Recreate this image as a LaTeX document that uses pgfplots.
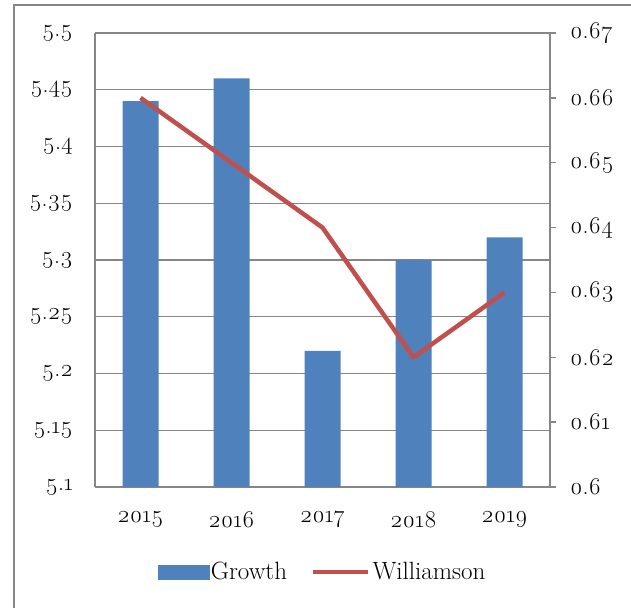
\documentclass[border=0pt]{standalone}
\usepackage{fontspec}
\setmainfont{Latin Modern Roman}[Numbers=OldStyle]
\usepackage{pgfplots}
\pgfplotsset{compat=1.18}
\definecolor{barblue}{HTML}{4F81BD}
\definecolor{linered}{HTML}{C0504D}
\definecolor{gridgray}{HTML}{868686}
\begin{document}
\begin{tikzpicture}[x=1pt,y=1pt]
\useasboundingbox (0,0) rectangle (631,608);
\draw[gridgray, line width=1.5pt] (14,0) -- (14,603) -- (631,603);
\begin{axis}[at={(95pt,121pt)}, anchor=south west, scale only axis,
  width=455pt, height=454pt,
  xmin=-0.5, xmax=4.5, ymin=5.1, ymax=5.5,
  xtick={0,1,2,3,4}, xticklabels={2015,2016,2017,2018,2019},
  ytick={5.1,5.15,5.2,5.25,5.3,5.35,5.4,5.45,5.5},
  yticklabels={5.1,5.15,5.2,5.25,5.3,5.35,5.4,5.45,5.5},
  axis line style={gridgray, line width=1.3pt},
  ymajorgrids, grid style={gridgray, line width=1.3pt},
  major tick length=0pt,
  ticklabel style={font=\fontsize{24}{28}\selectfont},
  yticklabel style={inner sep=0pt, xshift=-22pt},
  xticklabel style={inner sep=0pt, yshift=-24pt},
  axis y line*=left, axis x line*=bottom,
  ]
\addplot[ybar, bar width=36pt, fill=barblue, draw=none] coordinates {(0,5.44) (1,5.46) (2,5.22) (3,5.30) (4,5.32)};
\end{axis}
\begin{axis}[at={(95pt,121pt)}, anchor=south west, scale only axis,
  width=455pt, height=454pt,
  xmin=-0.5, xmax=4.5, ymin=0.6, ymax=0.67,
  axis x line=none, axis y line*=right,
  ytick={0.6,0.61,0.62,0.63,0.64,0.65,0.66,0.67},
  yticklabels={0.6,0.61,0.62,0.63,0.64,0.65,0.66,0.67},
  axis line style={gridgray, line width=1.3pt},
  tick style={gridgray, line width=1.3pt},
  tick align=outside, major tick length=6pt,
  ticklabel style={font=\fontsize{24}{28}\selectfont},
  yticklabel style={inner sep=0pt, xshift=14pt},
  legend style={at={(0.5,-0.187)}, anchor=center, draw=none, fill=none,
    legend columns=2, font=\fontsize{25}{28}\selectfont,
    /tikz/every even column/.append style={column sep=22pt}},
  ]
\addlegendimage{legend image code/.code={\fill[barblue] (0pt,-7pt) rectangle (51pt,7pt);}}
\addlegendentry{Growth}
\addplot[linered, line width=4.5pt, line join=round,
  legend image code/.code={\draw[linered, line width=4.5pt] (0pt,0pt) -- (55pt,0pt);}]
  coordinates {(0,0.66) (1,0.65) (2,0.64) (3,0.62) (4,0.63)};
\addlegendentry{Williamson}
\end{axis}
\end{tikzpicture}
\end{document}
